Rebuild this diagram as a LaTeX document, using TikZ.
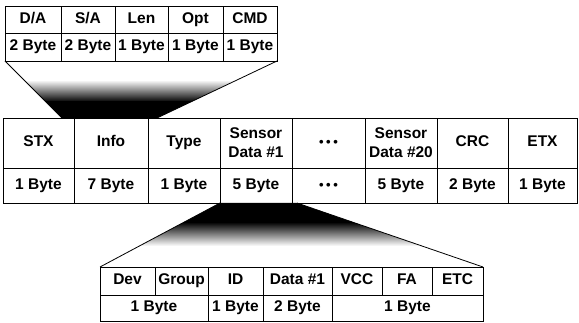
\documentclass[tikz,border=0pt]{standalone}
\usepackage{fontspec}
\setmainfont{Liberation Sans}
\begin{document}
\begin{tikzpicture}[x=1pt,y=-1pt,
  cellbase/.style={draw, line width=0.8pt, inner sep=0pt, outer sep=0pt, anchor=north west,
    align=center, font=\fontsize{15.5}{19}\selectfont\bfseries},
  cell/.style={cellbase, text height=11pt, text depth=3.5pt},
  edge/.style={line width=0.8pt}]
\useasboundingbox (0,0) rectangle (579,323);
\newcommand\mycell[6]{\node[cell, minimum width=#4pt, minimum height=#5pt] (#1) at (#2,#3) {#6};}
\newcommand\mytwocell[6]{\node[cellbase, minimum width=#4pt, minimum height=#5pt] (#1) at (#2,#3) {#6};}
\newcommand\dotsx{{\fontsize{13}{13}\selectfont •\hspace{2.5pt}•\hspace{2.5pt}•}}
% funnel coordinates
\coordinate (fa) at (62,118);
\coordinate (fb) at (157,118);
\coordinate (fc) at (220,203);
\coordinate (fd) at (297,203);
% top funnel shading
\begin{scope}
  \clip (5,61) -- (277,61) -- (fb) -- (fa) -- cycle;
  \shade[top color=white, bottom color=black] (0,80) rectangle (579,102);
  \fill[black] (0,101.5) rectangle (579,119);
\end{scope}
% bottom funnel shading
\begin{scope}
  \clip (fc) -- (fd) -- (483,267) -- (100,267) -- cycle;
  \fill[black] (0,202) rectangle (579,222.5);
  \shade[top color=black, bottom color=white] (0,222) rectangle (579,246);
\end{scope}
% top table
\mycell{tDA}{5}{6}{56}{27}{D/A}
\mycell{tSA}{61}{6}{54}{27}{S/A}
\mycell{tLen}{115}{6}{53}{27}{Len}
\mycell{tOpt}{168}{6}{55}{27}{Opt}
\mycell{tCMD}{223}{6}{54}{27}{CMD}
\mycell{tDAb}{5}{33}{56}{28}{2 Byte}
\mycell{tSAb}{61}{33}{54}{28}{2 Byte}
\mycell{tLenb}{115}{33}{53}{28}{1 Byte}
\mycell{tOptb}{168}{33}{55}{28}{1 Byte}
\mycell{tCMDb}{223}{33}{54}{28}{1 Byte}
% main table
\mycell{mSTX}{3}{118}{71}{50}{STX}
\mycell{mInfo}{74}{118}{74}{50}{Info}
\mycell{mType}{148}{118}{72}{50}{Type}
\mytwocell{mS1}{220}{118}{72}{50}{Sensor\\Data \#1}
\mycell{mDots}{292}{118}{73}{50}{\dotsx}
\mytwocell{mS20}{365}{118}{72}{50}{Sensor\\Data \#20}
\mycell{mCRC}{437}{118}{71}{50}{CRC}
\mycell{mETX}{508}{118}{69}{50}{ETX}
\mycell{mSTXb}{3}{168}{71}{35}{1 Byte}
\mycell{mInfob}{74}{168}{74}{35}{7 Byte}
\mycell{mTypeb}{148}{168}{72}{35}{1 Byte}
\mycell{mS1b}{220}{168}{72}{35}{5 Byte}
\mycell{mDotsb}{292}{168}{73}{35}{\dotsx}
\mycell{mS20b}{365}{168}{72}{35}{5 Byte}
\mycell{mCRCb}{437}{168}{71}{35}{2 Byte}
\mycell{mETXb}{508}{168}{69}{35}{1 Byte}
% bottom table
\mycell{bDev}{100}{267}{55}{28}{Dev}
\mycell{bGroup}{155}{267}{53}{28}{Group}
\mycell{bID}{208}{267}{55}{28}{ID}
\mycell{bData}{263}{267}{69}{28}{Data \#1}
\mycell{bVCC}{332}{267}{50}{28}{VCC}
\mycell{bFA}{382}{267}{50}{28}{FA}
\mycell{bETC}{432}{267}{51}{28}{ETC}
\mycell{bDGb}{100}{295}{108}{26.5}{1 Byte}
\mycell{bIDb}{208}{295}{55}{26.5}{1 Byte}
\mycell{bDatab}{263}{295}{69}{26.5}{2 Byte}
\mycell{bRestb}{332}{295}{151}{26.5}{1 Byte}
% funnel edges
\draw[edge] (tDAb.south west) -- (fa);
\draw[edge] (tCMDb.south east) -- (fb);
\draw[edge] (fc) -- (bDev.north west);
\draw[edge] (fd) -- (bETC.north east);
\end{tikzpicture}
\end{document}
